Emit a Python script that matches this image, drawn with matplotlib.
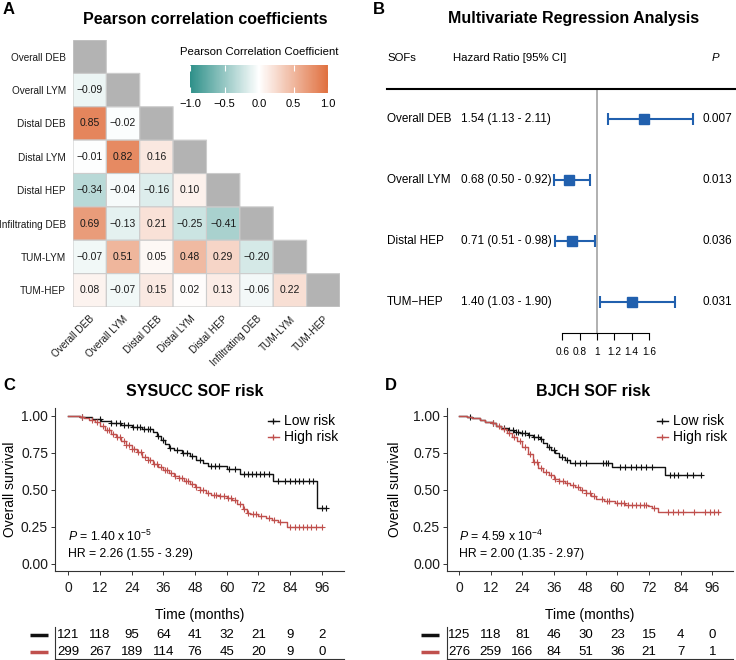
import numpy as np
import matplotlib
matplotlib.use("Agg")
from matplotlib import pyplot as plt
from matplotlib.colors import LinearSegmentedColormap, ListedColormap
from matplotlib.lines import Line2D

plt.rcParams['font.family'] = ['Liberation Sans', 'DejaVu Sans']
plt.rcParams['mathtext.fontset'] = 'custom'
plt.rcParams['mathtext.rm'] = 'Liberation Sans'
plt.rcParams['mathtext.it'] = 'Liberation Sans:italic'

# ---- panel A data
corr_labels = ["Overall DEB", "Overall LYM", "Distal DEB", "Distal LYM",
               "Distal HEP", "Infiltrating DEB", "TUM-LYM", "TUM-HEP"]
corr_rows = [
    [],
    [-0.09],
    [0.85, -0.02],
    [-0.01, 0.82, 0.16],
    [-0.34, -0.04, -0.16, 0.10],
    [0.69, -0.13, 0.21, -0.25, -0.41],
    [-0.07, 0.51, 0.05, 0.48, 0.29, -0.20],
    [0.08, -0.07, 0.15, 0.02, 0.13, -0.06, 0.22],
]
cbar_ticks = [-1.0, -0.5, 0.0, 0.5, 1.0]

# ---- panel B data
sof_names = ["Overall DEB", "Overall LYM", "Distal HEP", "TUM\u2212HEP"]
hr = [1.54, 0.68, 0.71, 1.40]
hr_lo = [1.13, 0.50, 0.51, 1.03]
hr_hi = [2.11, 0.92, 0.98, 1.90]
p_vals = ["0.007", "0.013", "0.036", "0.031"]
forest_ticks = [0.6, 0.8, 1.0, 1.2, 1.4, 1.6]
forest_ticklabels = ["0.6", "0.8", "1", "1.2", "1.4", "1.6"]

# ---- panel C data (SYSUCC)
c_low_t = [0, 4.5, 9, 12.5, 16, 20, 24, 28, 32, 33.5, 35, 36.5, 38, 40, 43, 46,
           48.5, 51, 53, 60, 65, 77.5, 94.2]
c_low_s = [1.0, 0.99, 0.98, 0.968, 0.955, 0.94, 0.928, 0.915, 0.895, 0.865, 0.84,
           0.81, 0.785, 0.77, 0.75, 0.73, 0.705, 0.685, 0.662, 0.64, 0.61, 0.563, 0.376]
c_low_end = 97.5
c_low_cens = [5, 12, 16, 18, 19.5, 21, 22.5, 24.5, 26, 27, 28.5, 30, 31, 34, 36, 38.5,
              41, 43.5, 45, 47, 50, 54, 55.5, 57, 61, 63, 66.5, 68, 69.5, 71, 72.5,
              74, 76, 79.5, 82, 84, 86, 87.5, 89, 91, 92.5, 96, 97.5]
c_high_t = [0, 4.5, 6, 8, 10, 12, 14, 16, 18, 20, 22, 24, 26, 28, 30, 32, 34, 36, 38,
            40, 42, 44, 46, 48, 50, 52, 54, 57, 60, 62, 64, 66, 67.5, 69, 72, 75, 77,
            79.5, 83]
c_high_s = [1.0, 0.995, 0.985, 0.972, 0.958, 0.935, 0.908, 0.88, 0.855, 0.83, 0.805,
            0.78, 0.755, 0.725, 0.70, 0.675, 0.652, 0.635, 0.615, 0.597, 0.582, 0.562,
            0.54, 0.518, 0.497, 0.478, 0.468, 0.461, 0.445, 0.43, 0.405, 0.37, 0.345,
            0.335, 0.322, 0.31, 0.295, 0.283, 0.252]
c_high_end = 96
c_high_cens = [5, 9, 11, 13, 14.5, 15.5, 17, 18.5, 19.5, 21, 22, 23, 24, 25, 26.5, 27.5,
               29, 30, 31, 32.5, 33.5, 35, 36.5, 37.5, 39, 40.5, 42, 43, 44.5, 45.5,
               47, 48.5, 50, 51, 53, 55, 56, 57.5, 59, 60.5, 61.5, 63, 65, 66.5, 68,
               70, 71, 73, 76, 78, 80, 84, 86, 87.5, 89, 90.5, 92, 94, 96]
c_p_text = r"$P$ = 1.40 x 10$^{-5}$"
c_hr_text = "HR = 2.26 (1.55 - 3.29)"
c_risk_low = [121, 118, 95, 64, 41, 32, 21, 9, 2]
c_risk_high = [299, 267, 189, 114, 76, 45, 20, 9, 0]

# ---- panel D data (BJCH)
d_low_t = [0, 3, 5, 8, 10, 12.5, 14, 16, 18.5, 21, 23, 26, 28, 30.5, 32, 33.5, 35,
           36.5, 38, 40, 42, 57.9, 78]
d_low_s = [1.0, 0.995, 0.985, 0.975, 0.962, 0.95, 0.935, 0.92, 0.905, 0.892, 0.882,
           0.872, 0.86, 0.845, 0.815, 0.79, 0.77, 0.75, 0.725, 0.705, 0.68, 0.652, 0.598]
d_low_end = 91.8
d_low_cens = [4, 13, 17, 19, 20.5, 21.5, 22.5, 24, 25, 26.5, 28.5, 30, 31, 34, 36,
              39, 41, 44, 46, 48, 54.5, 55.5, 56.5, 61, 63, 65, 67, 69, 71, 73, 80,
              81.5, 83, 86.5, 88.5, 91.5]
d_high_t = [0, 3, 5, 8, 10, 12.5, 14, 16, 18, 20, 22, 24, 26, 28, 30, 32, 34, 36, 38,
            40, 42, 44, 46, 48, 50, 52, 55, 59, 63, 71.7, 73, 75.5]
d_high_s = [1.0, 0.995, 0.985, 0.975, 0.962, 0.95, 0.935, 0.91, 0.885, 0.86, 0.83,
            0.79, 0.74, 0.69, 0.65, 0.62, 0.60, 0.575, 0.56, 0.55, 0.535, 0.52, 0.50,
            0.48, 0.46, 0.44, 0.422, 0.411, 0.40, 0.389, 0.377, 0.348]
d_high_end = 98.4
d_high_cens = [13, 15, 17, 19, 21, 23, 25, 27, 28.5, 29.5, 31, 33, 35, 36.5, 38, 39.5,
               41, 43, 45, 46.5, 48, 49.5, 51, 54, 56, 57, 60, 61.5, 62.5, 64, 65.5,
               67, 68.5, 70, 71, 74, 79, 81, 83, 85, 89, 93, 95, 96.5, 98]
d_p_text = r"$P$ = 4.59 x 10$^{-4}$"
d_hr_text = "HR = 2.00 (1.35 - 2.97)"
d_risk_low = [125, 118, 81, 46, 30, 23, 15, 4, 0]
d_risk_high = [276, 259, 166, 84, 51, 36, 21, 7, 1]

risk_times = [0, 12, 24, 36, 48, 60, 72, 84, 96]
low_col = "#111111"
high_col = "#C0504D"

W, H = 736, 660
fig = plt.figure(figsize=(W / 100, H / 100), dpi=100)


def add_ax(l, t, r, b):
    return fig.add_axes([l / W, 1 - b / H, (r - l) / W, (b - t) / H])


def ftext(x, y, s, **kw):
    fig.text(x / W, 1 - y / H, s, **kw)


# panel letters and titles
for x, y, s in [(3, 10, "A"), (373, 10, "B"), (3, 386, "C"), (385, 386, "D")]:
    ftext(x, y, s, fontsize=12, fontweight="bold", va="center", ha="left")
ftext(205, 19, "Pearson correlation coefficients", fontsize=11.5, fontweight="bold",
      ha="center", va="center")
ftext(574, 19, "Multivariate Regression Analysis", fontsize=11.5, fontweight="bold",
      ha="center", va="center")
ftext(195, 391, "SYSUCC SOF risk", fontsize=11.5, fontweight="bold", ha="center",
      va="center")
ftext(593, 391, "BJCH SOF risk", fontsize=11.5, fontweight="bold", ha="center",
      va="center")

# ---------------- A: correlation heatmap
n = len(corr_labels)
M = np.full((n, n), np.nan)
D = np.full((n, n), np.nan)
for i, row in enumerate(corr_rows):
    for j, v in enumerate(row):
        M[i, j] = v
    D[i, i] = 1.0

cmap = LinearSegmentedColormap.from_list("tealorange", ["#2E9089", "#FFFFFF", "#E0703F"])
axA = add_ax(73, 40, 340, 307)
mesh = axA.pcolor(np.ma.masked_invalid(M), cmap=cmap, vmin=-1, vmax=1,
                  edgecolors="#CCCCCC", linewidth=0.8)
axA.pcolor(np.ma.masked_invalid(D), cmap=ListedColormap(["#B3B3B3"]),
           edgecolors="#CCCCCC", linewidth=0.8)
for i, row in enumerate(corr_rows):
    for j, v in enumerate(row):
        axA.text(j + 0.5, i + 0.5, f"{v:.2f}".replace("-", "\u2212"), ha="center",
                 va="center", fontsize=7.5, color="#1a1a1a")
axA.set_xlim(0, n)
axA.set_ylim(n, 0)
axA.set_xticks(np.arange(n) + 0.5)
axA.set_yticks(np.arange(n) + 0.5)
axA.set_xticklabels(corr_labels, rotation=45, ha="right", va="top",
                    rotation_mode="anchor", fontsize=7.2, color="#1a1a1a")
axA.set_yticklabels(corr_labels, fontsize=7.2, color="#1a1a1a")
axA.tick_params(length=0, pad=5)
for sp in axA.spines.values():
    sp.set_visible(False)
axA.patch.set_alpha(0)

cax = add_ax(190, 65, 328, 93)
cb = fig.colorbar(mesh, cax=cax, orientation="horizontal")
cb.outline.set_visible(False)
cb.set_ticks(cbar_ticks)
cb.set_ticklabels([f"{t:.1f}".replace("-", "\u2212") for t in cbar_ticks])
cax.tick_params(direction="in", color="white", length=4, width=0.8, top=True,
                labelsize=8, pad=4)
ftext(259, 52, "Pearson Correlation Coefficient", fontsize=8.2, ha="center",
      va="center")

# ---------------- B: forest plot
axB = add_ax(387, 40, 735, 333)
px_unit = 86.5
axB.set_xlim(1 - (597 - 387) / px_unit, 1 + (735 - 597) / px_unit)
axB.set_ylim(3.5, -1.3)
rows = np.arange(len(sof_names))
hr_a = np.array(hr)
axB.axvline(1, ymin=0, ymax=4 / 4.8, color="#AAAAAA", lw=1.3, zorder=1)
axB.errorbar(hr_a, rows, xerr=[hr_a - np.array(hr_lo), np.array(hr_hi) - hr_a],
             fmt="s", color="#2160AE", ms=7.5, capsize=4, elinewidth=1.5,
             capthick=1.5, zorder=3)
x_left = axB.get_xlim()[0]
x_hr = 1 + (461 - 597) / px_unit
x_p = 1 + (732 - 597) / px_unit
axB.text(x_left, -1, "SOFs", fontsize=8.2, va="center", ha="left")
axB.text(1 + (453 - 597) / px_unit, -1, "Hazard Ratio [95% CI]", fontsize=8.2,
         va="center", ha="left")
axB.text(1 + (715 - 597) / px_unit, -1, "P", fontsize=8.2, style="italic",
         va="center", ha="center")
axB.plot(axB.get_xlim(), [-0.5, -0.5], color="black", lw=1.5, clip_on=False)
for r, name, h, lo, hi, p in zip(rows, sof_names, hr, hr_lo, hr_hi, p_vals):
    axB.text(x_left, r, name, fontsize=8.5, va="center", ha="left")
    axB.text(x_hr, r, f"{h:.2f} ({lo:.2f} - {hi:.2f})", fontsize=8.5, va="center",
             ha="left")
    axB.text(x_p, r, p, fontsize=8.5, va="center", ha="right")
for s in ["top", "right", "left"]:
    axB.spines[s].set_visible(False)
axB.spines["bottom"].set_bounds(forest_ticks[0], forest_ticks[-1])
axB.spines["bottom"].set_linewidth(0.8)
axB.set_xticks(forest_ticks)
axB.set_xticklabels(forest_ticklabels, fontsize=7.3)
axB.set_yticks([])
axB.tick_params(axis="x", length=5, width=0.8, pad=5)


# ---------------- C / D: Kaplan-Meier
def km_panel(l, r, curves, p_text, hr_text, risk_low, risk_high, ylab_x):
    ax = add_ax(l, 408, r, 571)
    x0 = 68.3 - l if l < 100 else 459 - l
    ppm = 2.64
    ax.set_xlim(-x0 / ppm, (r - l - x0) / ppm)
    ax.set_ylim(-0.048, 1.054)
    for t, s, end, cens, col in curves:
        t = np.array(t, float)
        s = np.array(s, float)
        ax.step(np.append(t, end), np.append(s, s[-1]), where="post", color=col,
                lw=1.0)
        cens = np.array(cens, float)
        ys = s[np.searchsorted(t, cens, side="right") - 1]
        ax.plot(cens, ys, ls="none", marker="+", ms=4.5, mew=0.8, color=col)
    for s in ["top", "right"]:
        ax.spines[s].set_visible(False)
    for s in ["left", "bottom"]:
        ax.spines[s].set_color("#333333")
        ax.spines[s].set_linewidth(0.8)
    ax.set_xticks(risk_times)
    ax.set_yticks([0, 0.25, 0.5, 0.75, 1.0])
    ax.set_yticklabels(["0.00", "0.25", "0.50", "0.75", "1.00"])
    ax.tick_params(labelsize=10, length=3, width=0.7, color="#333333",
                   labelcolor="#1a1a1a")
    ax.tick_params(axis="x", pad=4)
    ax.tick_params(axis="y", pad=2)
    ax.set_xlabel("Time (months)", fontsize=10)
    ax.xaxis.set_label_coords(0.5, -37 / 163)
    ax.set_ylabel("Overall survival", fontsize=10)
    ax.yaxis.set_label_coords(-(l - ylab_x) / (r - l), 0.5)
    handles = [Line2D([], [], color=low_col, marker="+", lw=1, ms=5, mew=0.9),
               Line2D([], [], color=high_col, marker="+", lw=1, ms=5, mew=0.9)]
    ax.legend(handles, ["Low risk", "High risk"], loc="upper right",
              bbox_to_anchor=(1.0, 0.995), frameon=False, fontsize=10,
              handlelength=0.8, handletextpad=0.4, labelspacing=0.15,
              borderaxespad=0)
    ax.text(0, 0.25 - 0.065, p_text, fontsize=8.8, va="center", ha="left")
    ax.text(0, 0.25 - 0.18, hr_text, fontsize=8.8, va="center", ha="left")

    tab = add_ax(l, 627, r, 659)
    tab.set_xlim(ax.get_xlim())
    tab.set_ylim(0, 1)
    for tt, a, b in zip(risk_times, risk_low, risk_high):
        tab.text(tt, 0.74, str(a), fontsize=9.5, ha="center", va="center")
        tab.text(tt, 0.22, str(b), fontsize=9.5, ha="center", va="center")
    tab.plot([-14.5, -7.7], [0.74, 0.74], color=low_col, lw=2.5, clip_on=False,
             solid_capstyle="butt")
    tab.plot([-14.5, -7.7], [0.22, 0.22], color=high_col, lw=2.5, clip_on=False,
             solid_capstyle="butt")
    tab.set_xticks([])
    tab.set_yticks([])
    for s in ["top", "right"]:
        tab.spines[s].set_visible(False)
    for s in ["left", "bottom"]:
        tab.spines[s].set_color("#333333")
        tab.spines[s].set_linewidth(0.8)
    tab.patch.set_alpha(0)
    return ax


km_panel(55, 344,
         [(c_low_t, c_low_s, c_low_end, c_low_cens, low_col),
          (c_high_t, c_high_s, c_high_end, c_high_cens, high_col)],
         c_p_text, c_hr_text, c_risk_low, c_risk_high, 17)
km_panel(447, 733,
         [(d_low_t, d_low_s, d_low_end, d_low_cens, low_col),
          (d_high_t, d_high_s, d_high_end, d_high_cens, high_col)],
         d_p_text, d_hr_text, d_risk_low, d_risk_high, 402)

fig.savefig("out.png", dpi=100)
